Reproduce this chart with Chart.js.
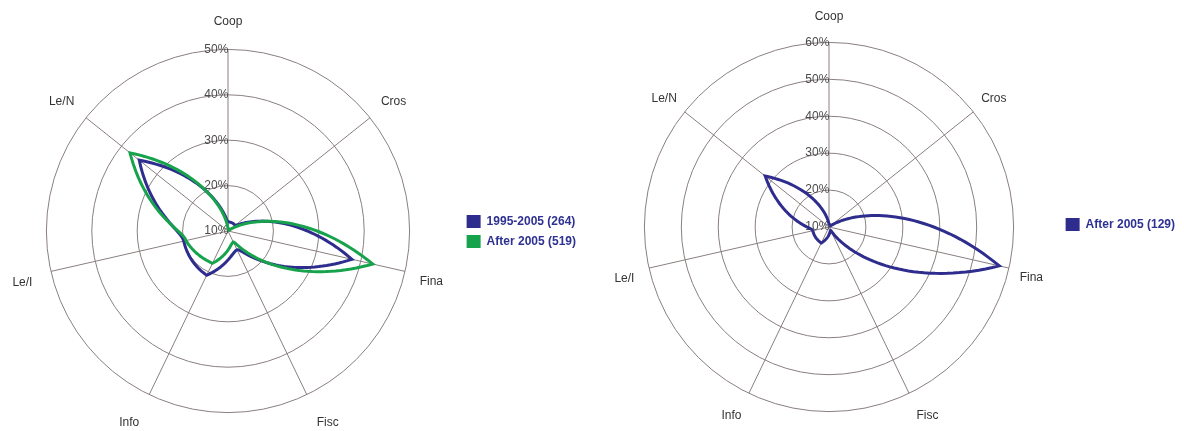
<!DOCTYPE html>
<html>
<head>
<meta charset="utf-8">
<script src="https://cdn.jsdelivr.net/npm/chart.js@4.4.1/dist/chart.umd.min.js"></script>
<style>
  html, body { margin: 0; padding: 0; background: #fff; overflow: hidden; width: 1184px; height: 431px; }
  .box { position: absolute; }
  #left-box { left: -3px; top: 5px; }
  #right-box { left: 600px; top: -2px; }
</style>
</head>
<body>
<div class="box" id="left-box"><canvas id="left-chart" width="589" height="434"></canvas></div>
<div class="box" id="right-box"><canvas id="right-chart" width="585" height="436"></canvas></div>
<script>
'use strict';

// ***** DATA *****
let categories = ['Coop', 'Cros', 'Fina', 'Fisc', 'Info', 'Le/I', 'Le/N'];

let leftSeriesNames = ['1995-2005 (264)', 'After 2005 (519)'];
let leftEarly = [12, 12, 38, 14.6, 20.8, 20, 35];
let leftLate = [10.7, 10.3, 42.7, 12.7, 17.9, 19.5, 37.6];
let leftTicks = [10, 20, 30, 40, 50];

let rightSeriesNames = ['After 2005 (129)'];
let rightLate = [10.9, 10.5, 57.3, 11, 14.8, 14.5, 32.1];
let rightTicks = [10, 20, 30, 40, 50, 60];

// ***** STYLE *****
let blue = '#2e2d8e';
let green = '#17a24c';
let gridColor = '#8a7f7f';
let tickColor = '#4a4a4a';
let fontFamily = 'Arial, "Liberation Sans", Helvetica, sans-serif';
let edgeCurve = 1.8;   // how the line bends between two spokes
let edgeSteps = 48;

// **** PLUGINS ****
// draws each series as a curve that sweeps round the centre between spokes
let polarEdgePlugin = {
  id: 'polarEdges',
  beforeDatasetDraw: function (chart, args) {
    let scale = chart.scales.r;
    let ds = chart.data.datasets[args.index];
    let vals = ds.data;
    let n = vals.length;
    let c = chart.ctx;
    c.save();
    c.beginPath();
    for (let i = 0; i < n; i++) {
      let a = vals[i];
      let b = vals[(i + 1) % n];
      for (let k = 0; k < edgeSteps; k++) {
        let s = k / edgeSteps;
        let v;
        if (a <= b) {
          v = a + (b - a) * Math.pow(s, edgeCurve);
        } else {
          v = b + (a - b) * Math.pow(1 - s, edgeCurve);
        }
        let p = scale.getPointPositionForValue(i + s, v);
        if (i === 0 && k === 0) {
          c.moveTo(p.x, p.y);
        } else {
          c.lineTo(p.x, p.y);
        }
      }
    }
    c.closePath();
    c.lineWidth = ds.borderWidth;
    c.strokeStyle = ds.borderColor;
    c.lineJoin = 'miter';
    c.miterLimit = 10;
    c.stroke();
    c.restore();
    return false;
  }
};

// Chart.js skips the tick label that sits at the centre; the picture shows it
let centerTickPlugin = {
  id: 'centerTick',
  beforeDatasetsDraw: function (chart) {
    let scale = chart.scales.r;
    let tick = scale.ticks[0];
    let c = chart.ctx;
    c.save();
    c.font = '12px ' + fontFamily;
    c.fillStyle = tickColor;
    c.textAlign = 'center';
    c.textBaseline = 'middle';
    c.fillText(tick.label, scale.xCenter, scale.yCenter - scale.getDistanceFromCenterForValue(tick.value));
    c.restore();
  }
};

// **** HELPERS ****
function makeDataset(label, data, color, order) {
  return {
    label: label,
    data: data,
    borderColor: color,
    backgroundColor: color,
    borderWidth: 3,
    pointRadius: 0,
    pointHoverRadius: 0,
    fill: false,
    order: order
  };
}

function legendItems(chart) {
  let items = Chart.defaults.plugins.legend.labels.generateLabels(chart);
  items.forEach(function (item) {
    item.lineWidth = 0;
  });
  return items.sort(function (a, b) { return a.datasetIndex - b.datasetIndex; });
}

function renderRadar(canvasId, datasets, ticks, opts) {
  let ctx = document.getElementById(canvasId);
  let chartObj = {
    type: 'radar',
    data: {
      labels: categories,
      datasets: datasets
    },
    options: {
      responsive: false,
      animation: false,
      plugins: {
        tooltip: { enabled: false },
        legend: {
          position: 'right',
          title: { display: true, text: '', font: { size: 10 }, padding: opts.legendShift },
          labels: {
            boxWidth: 14,
            boxHeight: 13,
            padding: 7,
            color: '#2e3192',
            font: { family: fontFamily, size: 12, weight: 'bold' },
            generateLabels: legendItems
          }
        }
      },
      scales: {
        r: {
          min: ticks[0],
          max: ticks[ticks.length - 1],
          beginAtZero: false,
          grid: { circular: true, color: gridColor, lineWidth: 1 },
          angleLines: { color: gridColor, lineWidth: 1 },
          ticks: {
            stepSize: ticks[1] - ticks[0],
            showLabelBackdrop: false,
            color: tickColor,
            font: { family: fontFamily, size: 12 },
            callback: function (v) { return v + '%' + '       '; }
          },
          pointLabels: {
            padding: function (c) { return opts.labelPads[c.index]; },
            color: '#333',
            font: { family: fontFamily, size: 12 }
          }
        }
      }
    },
    plugins: [polarEdgePlugin, centerTickPlugin]
  };
  return new Chart(ctx, chartObj);
}

// **** EXECUTABLE CODE *****
renderRadar('left-chart', [
  makeDataset(leftSeriesNames[0], leftEarly, blue, 1),
  makeDataset(leftSeriesNames[1], leftLate, green, 0)
], leftTicks, { labelPads: [13, 6, 7, 15, 15, 11, 7], legendShift: 3.5 });

renderRadar('right-chart', [
  makeDataset(rightSeriesNames[0], rightLate, blue, 0)
], rightTicks, { labelPads: [11, 2, 3, 9, 9, 7, 2], legendShift: 2.5 });
</script>
</body>
</html>
